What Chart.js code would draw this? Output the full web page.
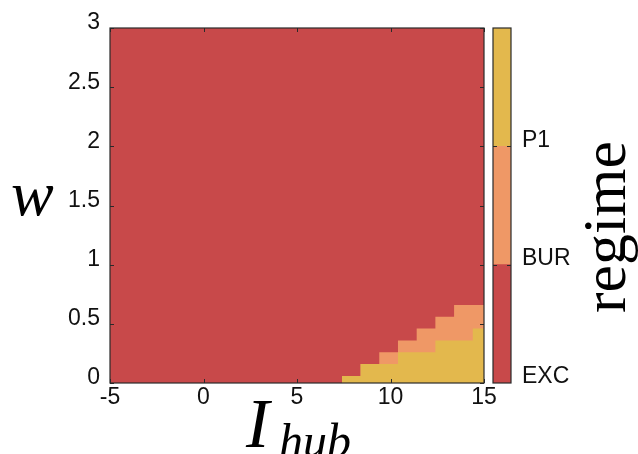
<!DOCTYPE html>
<html>
<head>
<meta charset="utf-8">
<script src="https://cdn.jsdelivr.net/npm/chart.js@4"></script>
<style>
html, body { margin: 0; padding: 0; background: #fff; }
#wrap { position: relative; width: 638px; height: 454px; overflow: hidden; }
#main { position: absolute; left: 0; top: 0; }
#cbar { position: absolute; left: 485px; top: 0; }
</style>
</head>
<body>
<div id="wrap">
    <canvas id="main" width="638" height="454"></canvas>
    <canvas id="cbar" width="153" height="454"></canvas>
</div>
<script>
// axes
const xTicks = [-5, 0, 5, 10, 15];
const yTicks = [0, 0.5, 1, 1.5, 2, 2.5, 3];
// regimes (colorbar, bottom to top)
const regimes = ['EXC', 'BUR', 'P1'];
const regimeColors = ['#c8494a', '#ef9866', '#e3b84d'];
const regimeSpan = [1, 1, 1];
// column edges along I_hub where the lower regimes show up (last value = right border)
const iHub = [7.4, 8.4, 9.4, 10.4, 11.4, 12.4, 13.4, 14.4, 15];
// upper edge of the P1 region in each column
const p1Top = [0.06, 0.16, 0.16, 0.26, 0.26, 0.36, 0.36, 0.46, 0.46];
// upper edge of the BUR region in each column
const burTop = [0.06, 0.16, 0.26, 0.36, 0.46, 0.56, 0.66, 0.66, 0.66];

const tickFont = { family: "'Liberation Sans', Arial, sans-serif", size: 23 };
const frameColor = '#2a2a2a';

function drawInwardTicks(ctx, area, scale, horizontal, values) {
    ctx.save();
    ctx.strokeStyle = frameColor;
    ctx.lineWidth = 1;
    ctx.beginPath();
    values.forEach(v => {
        const p = Math.round(scale.getPixelForValue(v)) + 0.5;
        if (horizontal) {
            ctx.moveTo(p, area.bottom); ctx.lineTo(p, area.bottom - 4);
            ctx.moveTo(p, area.top); ctx.lineTo(p, area.top + 4);
        } else {
            ctx.moveTo(area.left, p); ctx.lineTo(area.left + 4, p);
            ctx.moveTo(area.right, p); ctx.lineTo(area.right - 4, p);
        }
    });
    ctx.stroke();
    ctx.restore();
}

// background of the plot = EXC colour, frame, inward ticks and axis titles
const mainDecor = {
    id: 'mainDecor',
    beforeDatasetsDraw(chart) {
        const { ctx, chartArea: a } = chart;
        ctx.save();
        ctx.fillStyle = regimeColors[0];
        ctx.fillRect(a.left, a.top, a.right - a.left, a.bottom - a.top);
        ctx.restore();
    },
    afterDraw(chart) {
        const { ctx, chartArea: a } = chart;
        drawInwardTicks(ctx, a, chart.scales.x, true, xTicks);
        drawInwardTicks(ctx, a, chart.scales.y, false, yTicks);
        ctx.save();
        ctx.strokeStyle = frameColor;
        ctx.lineWidth = 1.2;
        ctx.strokeRect(a.left, a.top, a.right - a.left, a.bottom - a.top);
        ctx.fillStyle = '#000';
        ctx.textBaseline = 'alphabetic';
        ctx.textAlign = 'left';
        ctx.font = "italic 64px 'Liberation Serif', 'DejaVu Serif', serif";
        ctx.fillText('w', 11, 215);
        ctx.font = "italic 70px 'Liberation Serif', 'DejaVu Serif', serif";
        ctx.fillText('I', 246, 447);
        ctx.font = "italic 48px 'Liberation Serif', 'DejaVu Serif', serif";
        ctx.fillText('hub', 279, 457);
        ctx.restore();
    }
};

new Chart(document.getElementById('main'), {
    type: 'line',
    data: {
        datasets: [
            {
                label: regimes[2],
                data: iHub.map((x, i) => ({ x: x, y: p1Top[i] })),
                stepped: 'before',
                fill: 'origin',
                backgroundColor: regimeColors[2],
                borderColor: 'rgba(0,0,0,0)',
                borderWidth: 0,
                pointRadius: 0,
                order: 1
            },
            {
                label: regimes[1],
                data: iHub.map((x, i) => ({ x: x, y: burTop[i] })),
                stepped: 'before',
                fill: 'origin',
                backgroundColor: regimeColors[1],
                borderColor: 'rgba(0,0,0,0)',
                borderWidth: 0,
                pointRadius: 0,
                order: 2
            }
        ]
    },
    options: {
        responsive: false,
        animation: false,
        devicePixelRatio: 1,
        layout: { padding: { top: 28, right: 154, left: 0, bottom: 0 } },
        plugins: { legend: { display: false }, tooltip: { enabled: false } },
        scales: {
            x: {
                type: 'linear',
                min: -5,
                max: 15,
                afterBuildTicks: s => { s.ticks = xTicks.map(v => ({ value: v })); },
                afterFit: s => { s.height = 71; },
                grid: { display: false, drawTicks: false },
                border: { display: false },
                ticks: { padding: 1, color: '#111', font: tickFont, maxRotation: 0, callback: v => String(v) }
            },
            y: {
                type: 'linear',
                min: 0,
                max: 3,
                afterBuildTicks: s => { s.ticks = yTicks.map(v => ({ value: v })); },
                afterFit: s => { s.width = 110; },
                grid: { display: false, drawTicks: false },
                border: { display: false },
                ticks: { padding: 10, labelOffset: -5, color: '#111', font: tickFont, callback: v => String(v) }
            }
        }
    },
    plugins: [mainDecor]
});

// colorbar
const cbarDecor = {
    id: 'cbarDecor',
    afterDraw(chart) {
        const { ctx, chartArea: a } = chart;
        ctx.save();
        ctx.strokeStyle = frameColor;
        ctx.lineWidth = 1;
        ctx.beginPath();
        [1, 2].forEach(v => {
            const p = Math.round(chart.scales.y.getPixelForValue(v)) + 0.5;
            ctx.moveTo(a.left, p); ctx.lineTo(a.left + 4, p);
            ctx.moveTo(a.right, p); ctx.lineTo(a.right - 4, p);
        });
        ctx.stroke();
        ctx.lineWidth = 1.2;
        ctx.strokeRect(a.left, a.top, a.right - a.left, a.bottom - a.top);
        ctx.translate(140, 227);
        ctx.rotate(-Math.PI / 2);
        ctx.fillStyle = '#000';
        ctx.textAlign = 'center';
        ctx.textBaseline = 'alphabetic';
        ctx.font = "62px 'Liberation Serif', 'DejaVu Serif', serif";
        ctx.fillText('regime', 0, 0);
        ctx.restore();
    }
};

new Chart(document.getElementById('cbar'), {
    type: 'bar',
    data: {
        labels: ['regime'],
        datasets: regimes.map((r, i) => ({
            label: r,
            data: [regimeSpan[i]],
            backgroundColor: regimeColors[i],
            borderWidth: 0,
            barPercentage: 1,
            categoryPercentage: 1
        }))
    },
    options: {
        responsive: false,
        animation: false,
        devicePixelRatio: 1,
        layout: { padding: { top: 28, left: 8, right: 0, bottom: 71 } },
        plugins: { legend: { display: false }, tooltip: { enabled: false } },
        scales: {
            x: { stacked: true, display: false },
            y: {
                stacked: true,
                position: 'right',
                min: 0,
                max: 3,
                afterBuildTicks: s => { s.ticks = [0, 1, 2].map(v => ({ value: v })); },
                afterFit: s => { s.width = 127; },
                grid: { display: false, drawTicks: false },
                border: { display: false },
                ticks: {
                    padding: 11,
                    labelOffset: -6,
                    color: '#111',
                    font: tickFont,
                    callback: v => regimes[v]
                }
            }
        }
    },
    plugins: [cbarDecor]
});
</script>
</body>
</html>
